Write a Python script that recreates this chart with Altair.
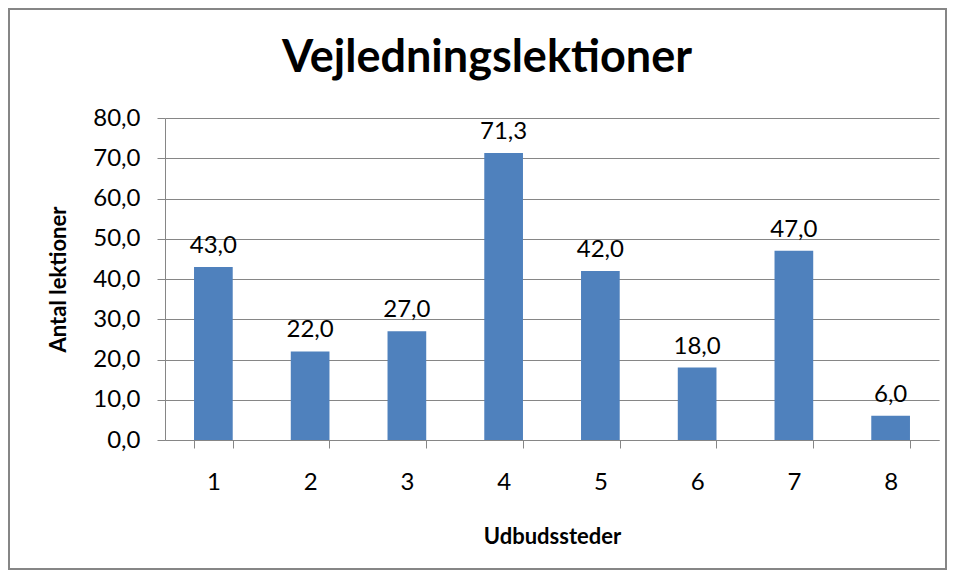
import altair as alt
import pandas as pd

categories = ["1", "2", "3", "4", "5", "6", "7", "8"]
values = [43.0, 22.0, 27.0, 71.3, 42.0, 18.0, 47.0, 6.0]
y_ticks = [0, 10, 20, 30, 40, 50, 60, 70, 80]

df = pd.DataFrame({"sted": categories, "antal": values})

FONT = "Lato"
GRID = "#868686"
BAR = "#4F81BD"

W, H = 774, 322
PL, PT, PR, PB = 157, 110, 8, 130

x_enc = alt.X(
    "sted:N",
    sort=categories,
    scale=alt.Scale(paddingInner=0.6, paddingOuter=0.3),
    axis=alt.Axis(
        title="Udbudssteder",
        labelAngle=0,
        tickBand="extent",
        tickSize=8,
        labelPadding=22,
        titlePadding=32,
    ),
)
y_enc = alt.Y(
    "antal:Q",
    scale=alt.Scale(domain=[0, 80], nice=False),
    axis=alt.Axis(
        title="Antal lektioner",
        values=y_ticks,
        labelExpr="replace(format(datum.value, '.1f'), '.', ',')",
        tickSize=8,
        labelPadding=17,
        titlePadding=22,
        grid=True,
    ),
)

bars = alt.Chart(df).mark_bar(color=BAR).encode(x=x_enc, y=y_enc)

labels = (
    alt.Chart(df)
    .transform_calculate(lbl="replace(format(datum.antal, '.1f'), '.', ',')")
    .mark_text(baseline="alphabetic", dy=-14, font=FONT, fontSize=24, color="#000000")
    .encode(x=alt.X("sted:N", sort=categories), y="antal:Q", text="lbl:N")
)

border = (
    alt.Chart(df)
    .mark_rect(fill=None, stroke=GRID, strokeWidth=2, clip=False)
    .encode(
        x=alt.value(-PL + 1),
        x2=alt.value(W + PR - 1),
        y=alt.value(-PT + 1),
        y2=alt.value(H + PB - 1),
    )
)

chart = (
    alt.layer(border, bars, labels)
    .properties(
        width=W,
        height=H,
        padding={"left": PL, "top": PT, "right": PR, "bottom": PB},
        autosize=alt.AutoSizeParams(type="none"),
        title=alt.TitleParams(
            "Vejledningslektioner",
            font=FONT,
            fontSize=45,
            fontWeight="bold",
            color="#000000",
            anchor="middle",
            baseline="alphabetic",
            dx=-65,
            offset=-109,
        ),
    )
    .configure_view(stroke=None)
    .configure_axis(
        labelFont=FONT,
        labelFontSize=24,
        labelColor="#000000",
        titleFont=FONT,
        titleFontSize=22,
        titleFontWeight="bold",
        titleColor="#000000",
        domainColor=GRID,
        tickColor=GRID,
        gridColor=GRID,
        gridOpacity=1,
        domainWidth=1,
        tickWidth=1,
        gridWidth=1,
    )
    .configure_axisX(grid=False)
)

chart.save("out.html", embed_options={"renderer": "svg", "actions": False})
